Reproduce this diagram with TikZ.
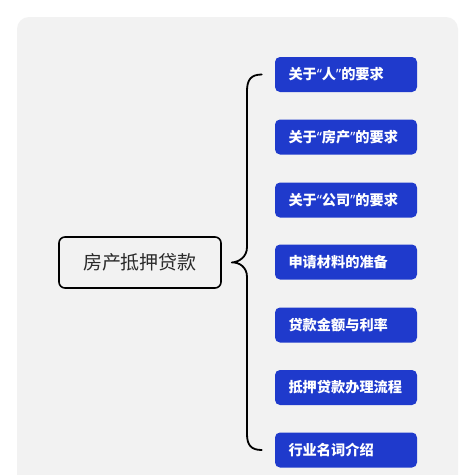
\documentclass[tikz,border=0pt]{standalone}
\usepackage{fontspec}
\setmainfont{Noto Sans CJK SC}
\newfontfamily\latinq{Noto Sans}
\newcommand{\qopen}{{\latinq“}}
\newcommand{\qclose}{{\latinq”}}
\definecolor{panelgray}{HTML}{F2F2F2}
\definecolor{boxblue}{RGB}{31,58,204}
\definecolor{titlegray}{HTML}{2A2A2A}
\tikzset{
  itembox/.style={draw=none, fill=boxblue, rounded corners=5pt, text=white,
    font=\bfseries\fontsize{14.2}{16}\selectfont, text width=115pt, inner xsep=13.5pt,
    minimum height=35pt, align=left, inner ysep=0pt},
  rootbox/.style={draw=black, line width=1.6pt, rounded corners=6pt, fill=panelgray,
    minimum width=162pt, minimum height=51pt, text=titlegray,
    font=\fontsize{19}{22}\selectfont},
  bracestyle/.style={draw=black, line width=1.8pt, line cap=round, line join=round}
}
\begin{document}
\begin{tikzpicture}[x=1pt,y=-1pt]
\useasboundingbox (0,0) rectangle (475,475);
\fill[white] (0,0) rectangle (475,475);
\begin{scope}
\clip (0,0) rectangle (475,475);
\fill[panelgray, rounded corners=12pt] (17,17) rectangle (458,510);
\end{scope}
\node[rootbox] (root) at (140,262.5) {房产抵押贷款};
\node[itembox] (b1) at (346,74.5) {关于\qopen 人\qclose 的要求};
\node[itembox] (b2) at (346,137) {关于\qopen 房产\qclose 的要求};
\node[itembox] (b3) at (346,200) {关于\qopen 公司\qclose 的要求};
\node[itembox] (b4) at (346,262) {申请材料的准备};
\node[itembox] (b5) at (346,325) {贷款金额与利率};
\node[itembox] (b6) at (346,387.5) {抵押贷款办理流程};
\node[itembox] (b7) at (346,450) {行业名词介绍};
\coordinate (top) at ([xshift=-13pt]b1.west);
\coordinate (bot) at ([xshift=-13pt]b7.west);
\coordinate (tip) at ([xshift=10pt]root.east);
\draw[bracestyle] (top) .. controls ++(-11,0) and (247,80) .. (247,91)
  -- (247,247) .. controls (247,257) and (239,262) .. (tip)
  .. controls (239,262) and (247,267) .. (247,277)
  -- (247,434) .. controls (247,445) and (251,450) .. (bot);
\end{tikzpicture}
\end{document}
